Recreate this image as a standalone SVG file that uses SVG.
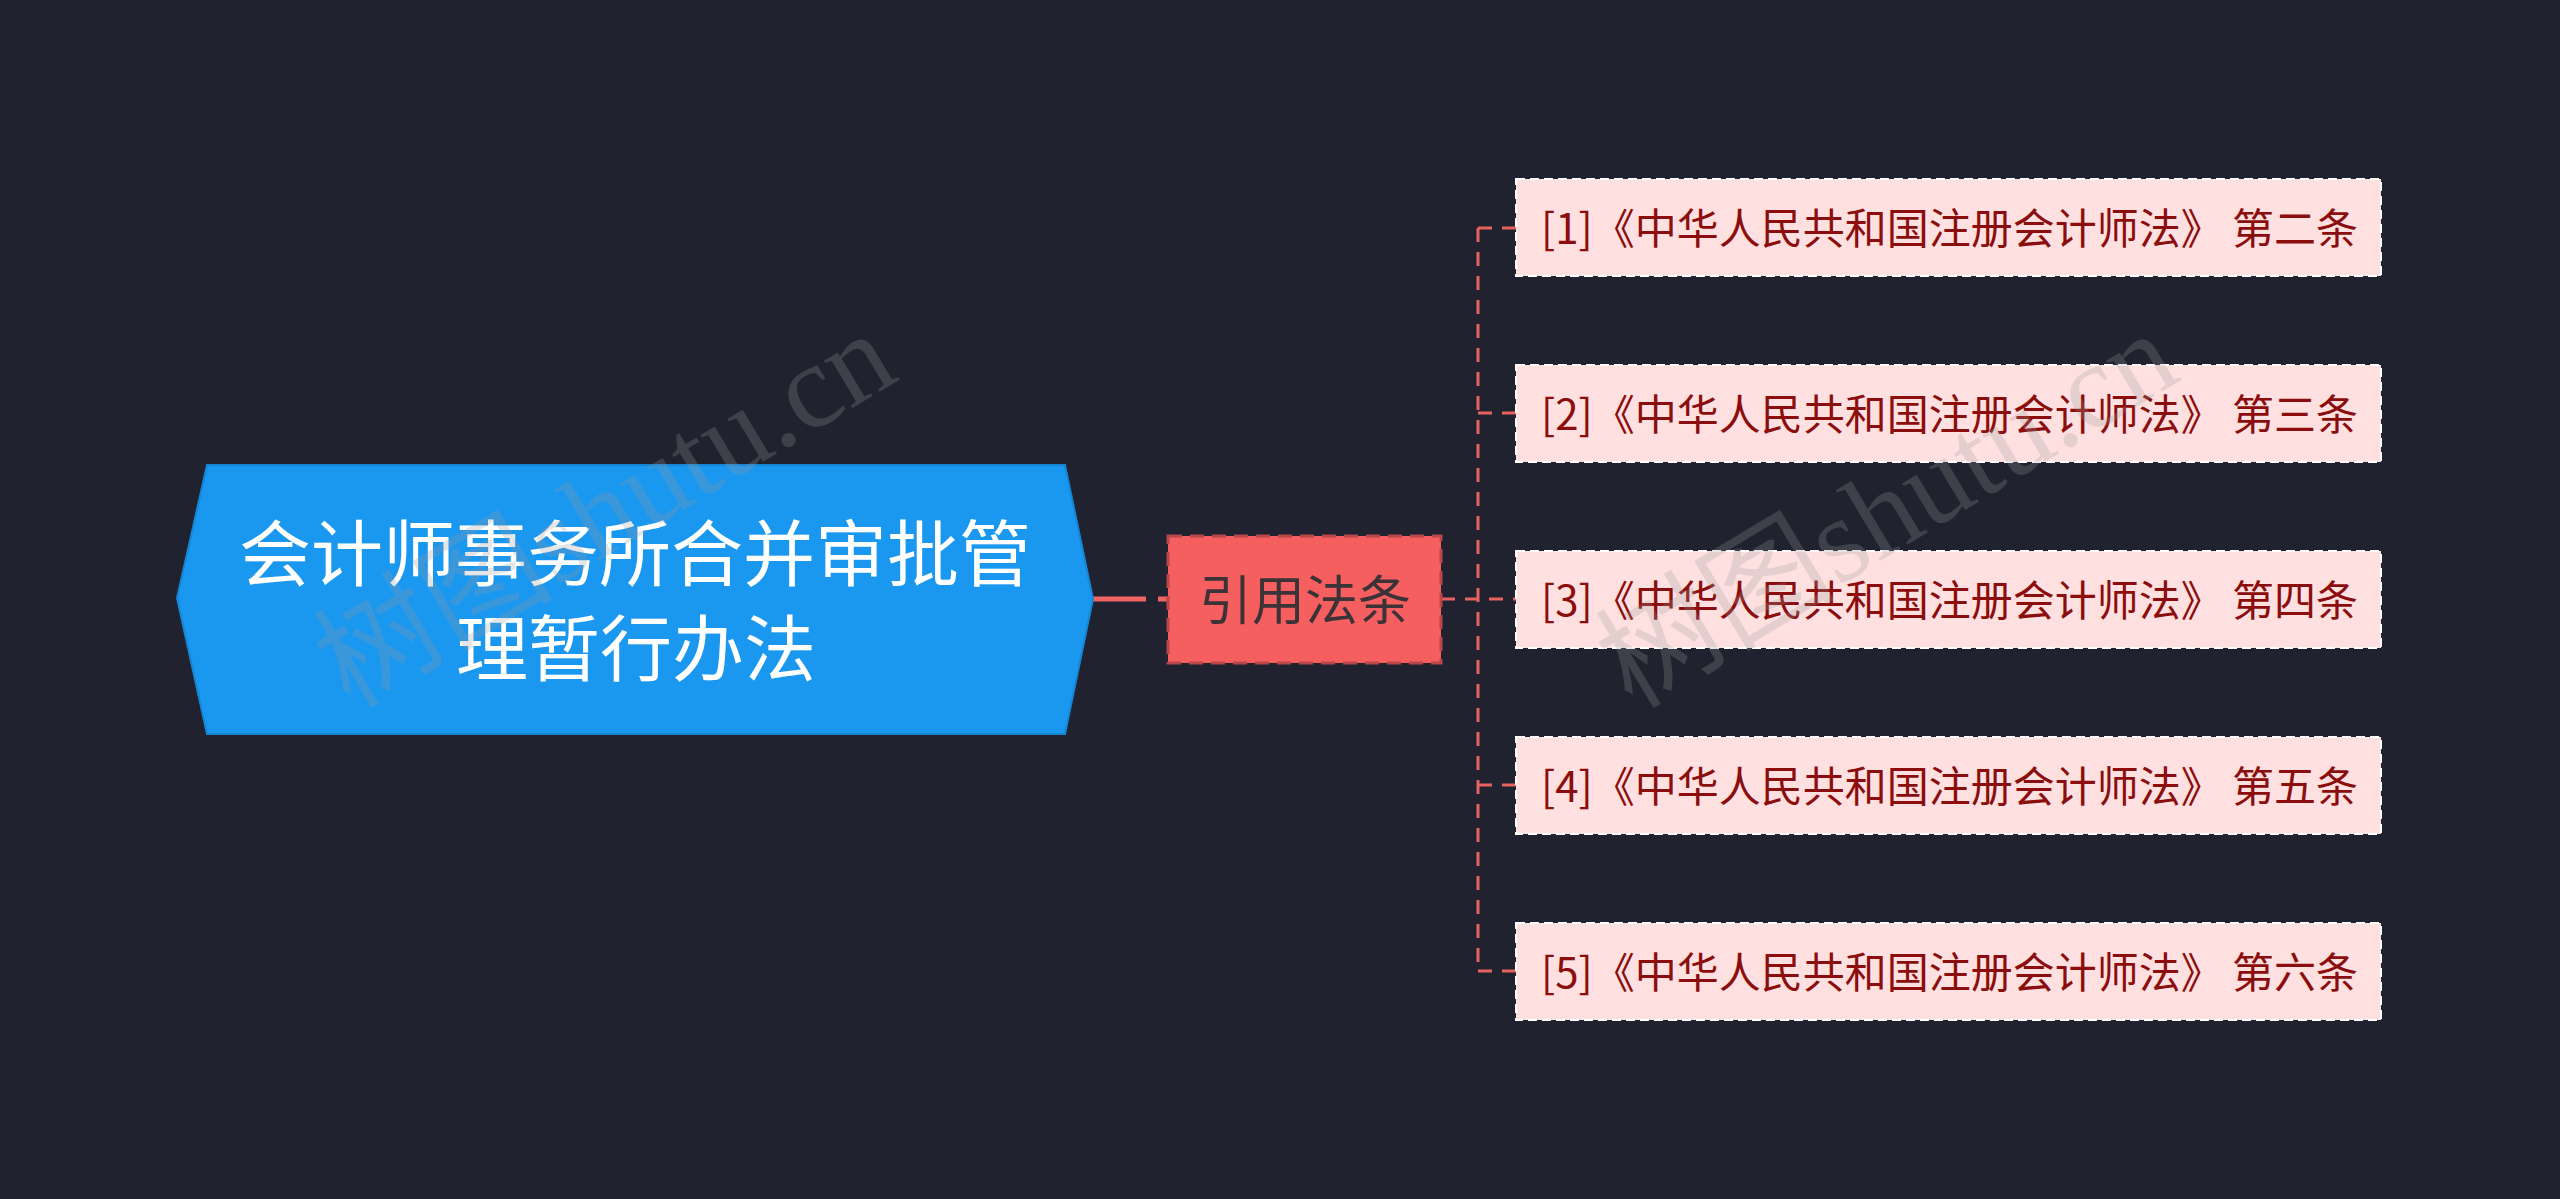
<svg xmlns="http://www.w3.org/2000/svg" width="2560" height="1199" viewBox="0 0 2560 1199">
<style>
.cjk{font-family:"Noto Sans CJK SC","Noto Sans",sans-serif}
.root-t{font-size:72px;fill:#ffffff;text-anchor:middle}
.mid-t{font-size:53px;fill:#3b3337;text-anchor:middle}
.leaf{fill:#ffe0e0;stroke:#ffffff;stroke-width:2;stroke-dasharray:9 5}
.leaf-t{font-size:42px;fill:#8b0d0d}
.conn{fill:none;stroke:#e8625f;stroke-width:3;stroke-dasharray:14 10}
.wm{font-family:"Liberation Serif","Noto Sans CJK SC",serif;font-size:120px;fill:#9a9a9a;opacity:0.25}
</style>
<rect width="2560" height="1199" fill="#20232f"/>
<g id="connectors">
<path d="M1093 599 H1146" stroke="#f06563" stroke-width="5" fill="none"/>
<path d="M1158 599 H1168" stroke="#f06563" stroke-width="5" fill="none"/>
<path class="conn" d="M1441 599 H1516"/>
<path class="conn" d="M1478 228 V971"/>
<path class="conn" d="M1478 228 H1516"/>
<path class="conn" d="M1478 413 H1516"/>
<path class="conn" d="M1478 785 H1516"/>
<path class="conn" d="M1478 971 H1516"/>
</g>
<g id="root">
<polygon points="177,598 207,465 1065,465 1093,599 1065,734 207,734" fill="#1a98f0" stroke="#1585d4" stroke-width="2"/>
<text class="cjk root-t" x="635" y="580">会计师事务所合并审批管</text>
<text class="cjk root-t" x="636" y="675">理暂行办法</text>
</g>
<g id="mid">
<rect x="1168" y="536" width="273" height="127" fill="#f55f5f" stroke="#b9474a" stroke-width="3" stroke-dasharray="14 8"/>
<text class="cjk mid-t" x="1305" y="620">引用法条</text>
</g>
<g id="leaf1">
<rect class="leaf" x="1516" y="179" width="865" height="97"/>
<text class="cjk leaf-t" x="1541" y="244">[1]《中华人民共和国注册会计师法》 第二条</text>
</g>
<g id="leaf2">
<rect class="leaf" x="1516" y="365" width="865" height="97"/>
<text class="cjk leaf-t" x="1541" y="430">[2]《中华人民共和国注册会计师法》 第三条</text>
</g>
<g id="leaf3">
<rect class="leaf" x="1516" y="551" width="865" height="97"/>
<text class="cjk leaf-t" x="1541" y="616">[3]《中华人民共和国注册会计师法》 第四条</text>
</g>
<g id="leaf4">
<rect class="leaf" x="1516" y="737" width="865" height="97"/>
<text class="cjk leaf-t" x="1541" y="802">[4]《中华人民共和国注册会计师法》 第五条</text>
</g>
<g id="leaf5">
<rect class="leaf" x="1516" y="923" width="865" height="97"/>
<text class="cjk leaf-t" x="1541" y="988">[5]《中华人民共和国注册会计师法》 第六条</text>
</g>
<g id="watermarks">
<text class="wm" transform="translate(350,710) rotate(-31)">树图shutu.cn</text>
<text class="wm" transform="translate(1632,710) rotate(-31)">树图shutu.cn</text>
</g>
</svg>
